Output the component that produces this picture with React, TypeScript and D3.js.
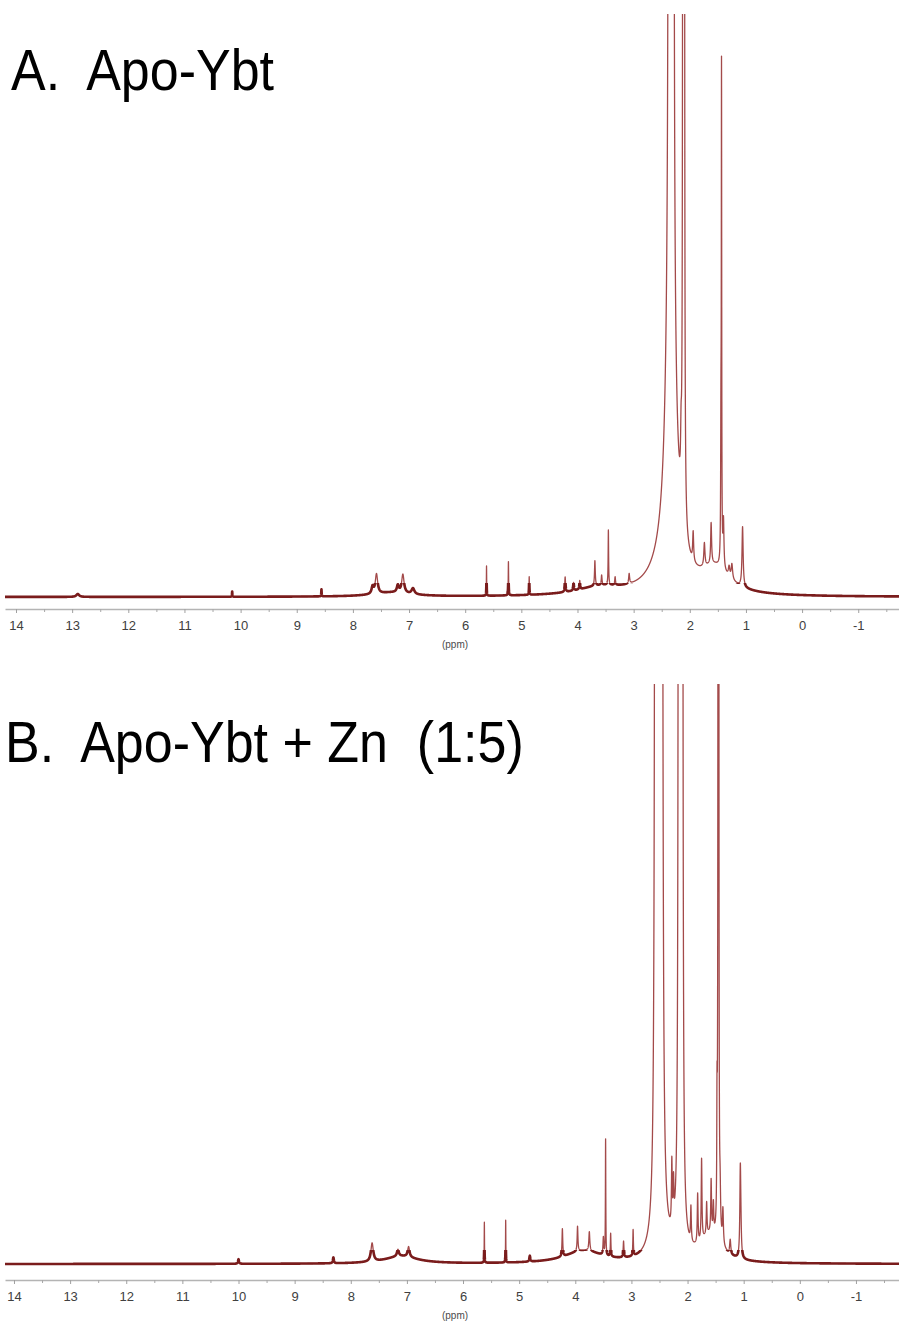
import React, { useEffect, useMemo, useRef } from "react";
import * as d3 from "d3";

// [chemical shift (ppm), intensity (% of full vertical scale), half-width (ppm)]
type Peak = [number, number, number];

const MAJOR_TICKS = [14, 13, 12, 11, 10, 9, 8, 7, 6, 5, 4, 3, 2, 1, 0, -1];
const MINOR_TICKS = [13.5, 12.5, 11.5, 10.5, 9.5, 8.5, 7.5, 6.5, 5.5, 4.5, 3.5, 2.5, 1.5, 0.5, -0.5, -1.5];
const AXIS_LABEL = "(ppm)";
const TITLE_A = "A.  Apo-Ybt";
const TITLE_B = "B.  Apo-Ybt + Zn  (1:5)";

const PEAKS_A: Peak[] = [
  [2.34, 60, 0.08],
  [2.4, 4, 0.3],
  [1.55, 4.3, 0.3],
  [3.6, 1.4, 0.5],
  [7.3, 0.7, 0.4],
  [2.37, 1200, 0.004],
  [2.345, 1200, 0.004],
  [2.32, 1200, 0.004],
  [2.295, 1200, 0.004],
  [2.12, 540, 0.004],
  [2.1, 540, 0.004],
  [2.155, 8, 0.01],
  [1.94, 5, 0.01],
  [1.74, 4, 0.012],
  [1.62, 7, 0.01],
  [1.435, 81.5, 0.004],
  [1.445, 22, 0.006],
  [1.4, 8, 0.01],
  [1.3, 1.7, 0.015],
  [1.25, 2.6, 0.015],
  [1.06, 10.3, 0.012],
  [3.08, 1.7, 0.01],
  [3.33, 1.4, 0.008],
  [3.45, 9.4, 0.005],
  [3.57, 1.7, 0.008],
  [3.69, 4.3, 0.008],
  [3.96, 1.5, 0.008],
  [4.07, 1.4, 0.008],
  [4.22, 2.6, 0.008],
  [4.86, 3.1, 0.004],
  [5.23, 5.8, 0.004],
  [5.62, 5.1, 0.003],
  [6.93, 1, 0.03],
  [7.11, 3.2, 0.025],
  [7.2, 1.2, 0.02],
  [7.58, 3.4, 0.025],
  [7.65, 1.2, 0.02],
  [8.56, 1.2, 0.004],
  [10.15, 0.9, 0.004],
  [12.9, 0.5, 0.03],
];

const PEAKS_B: Peak[] = [
  [2.57, 1380, 0.005],
  [2.54, 1380, 0.005],
  [2.51, 1380, 0.005],
  [2.485, 1380, 0.005],
  [2.46, 1380, 0.005],
  [2.155, 1080, 0.004],
  [2.135, 1080, 0.004],
  [2.115, 1080, 0.004],
  [2.095, 1080, 0.004],
  [2.28, 11, 0.008],
  [2.25, 7, 0.008],
  [1.94, 6, 0.008],
  [1.82, 8.5, 0.008],
  [1.75, 14, 0.008],
  [1.66, 5.5, 0.008],
  [1.58, 9, 0.008],
  [1.54, 5, 0.008],
  [1.475, 18, 0.005],
  [1.452, 700, 0.003],
  [1.443, 80, 0.003],
  [1.42, 6, 0.01],
  [1.37, 6, 0.01],
  [1.24, 2.5, 0.012],
  [1.06, 15, 0.01],
  [1.05, 3, 0.01],
  [1.6, 4.5, 0.22],
  [3.85, 2.2, 0.4],
  [7.1, 1.3, 0.35],
  [2.97, 4.5, 0.006],
  [3.14, 2.8, 0.008],
  [3.37, 4, 0.006],
  [3.46, 20, 0.004],
  [3.5, 3, 0.008],
  [3.75, 3.3, 0.01],
  [3.96, 4.3, 0.008],
  [4.23, 4.8, 0.008],
  [4.81, 1, 0.01],
  [5.24, 7.3, 0.003],
  [5.62, 7, 0.003],
  [6.97, 1.8, 0.02],
  [7.16, 1.2, 0.02],
  [7.62, 3.2, 0.025],
  [8.31, 1, 0.01],
  [10.0, 0.8, 0.01],
];

const FONT = "'Liberation Sans', Arial, Helvetica, sans-serif";
const LINE_LIGHT = "#a34a4a";
const LINE_DARK = "#7a1c1c";

function spectrum(peaks: Peak[], hi: number, lo: number): [number, number][] {
  const step = 0.001;
  const n = Math.round((hi - lo) / step);
  const pts: [number, number][] = [];
  for (let i = 0; i <= n; i++) {
    const p = hi - i * step;
    let s = 0;
    for (const [c, h, w] of peaks) {
      const d = (p - c) / w;
      s += h / (1 + d * d);
    }
    pts.push([p, s]);
  }
  return pts;
}

function Axis({ scale, y }: { scale: d3.ScaleLinear<number, number>; y: number }) {
  const ref = useRef<SVGGElement>(null);
  useEffect(() => {
    if (!ref.current) return;
    const g = d3.select(ref.current);
    g.selectAll("*").remove();
    const major = d3
      .axisBottom(scale)
      .tickValues(MAJOR_TICKS)
      .tickSize(4)
      .tickSizeOuter(0)
      .tickPadding(8)
      .tickFormat((d) => String(d));
    g.call(major as any);
    g.attr("font-family", FONT).attr("font-size", 13);
    g.select(".domain").attr("stroke", "#b4b4b4").attr("stroke-width", 1.6);
    g.selectAll(".tick line").attr("stroke", "#a0a0a0");
    g.selectAll(".tick text").attr("fill", "#404040");
    const minorG = g.append("g");
    const minor = d3.axisBottom(scale).tickValues(MINOR_TICKS).tickSize(3).tickSizeOuter(0).tickFormat(() => "");
    minorG.call(minor as any);
    minorG.select(".domain").remove();
    minorG.selectAll(".tick line").attr("stroke", "#a8a8a8");
  }, [scale]);
  return <g ref={ref} transform={`translate(0,${y})`} />;
}

function Panel({
  id,
  peaks,
  domain,
  baseY,
  topY,
  axisY,
  title,
  titleX,
  titleY,
}: {
  id: string;
  peaks: Peak[];
  domain: [number, number];
  baseY: number;
  topY: number;
  axisY: number;
  title: string;
  titleX: number;
  titleY: number;
}) {
  const x = useMemo(() => d3.scaleLinear().domain(domain).range([5, 899]), [domain]);
  const y = useMemo(() => d3.scaleLinear().domain([0, 100]).range([baseY, topY]), [baseY, topY]);
  const d = useMemo(() => {
    const pts = spectrum(peaks, domain[0], domain[1]);
    return d3
      .line<[number, number]>()
      .x((p) => x(p[0]))
      .y((p) => Math.max(y(p[1]), topY - 50))(pts) as string;
  }, [peaks, domain, x, y, topY]);
  return (
    <g>
      <defs>
        <clipPath id={`${id}-clip`}>
          <rect x={0} y={topY} width={899} height={axisY - 4 - topY} />
        </clipPath>
        <clipPath id={`${id}-band`}>
          <rect x={0} y={baseY - 14} width={899} height={axisY - 4 - (baseY - 14)} />
        </clipPath>
      </defs>
      <text
        transform={`translate(${titleX},${titleY}) scale(1,1.1)`}
        fontFamily={FONT}
        fontSize={52}
        fill="#000"
        style={{ whiteSpace: "pre" }}
      >
        {title}
      </text>
      <g clipPath={`url(#${id}-clip)`}>
        <path d={d} fill="none" stroke={LINE_LIGHT} strokeWidth={1.3} strokeLinejoin="round" />
      </g>
      <g clipPath={`url(#${id}-band)`}>
        <path d={d} fill="none" stroke={LINE_DARK} strokeWidth={2.6} strokeLinejoin="round" />
      </g>
      <Axis scale={x} y={axisY} />
      <text x={455} y={axisY + 39} textAnchor="middle" fontFamily={FONT} fontSize={10} fill="#4a4a4a">
        {AXIS_LABEL}
      </text>
    </g>
  );
}

const DOMAIN_A: [number, number] = [14.196, -1.726];
const DOMAIN_B: [number, number] = [14.16, -1.767];

export default function App() {
  return (
    <svg
      width={899}
      height={1325}
      viewBox="0 0 899 1325"
      style={{ position: "absolute", left: 0, top: 0, display: "block", background: "#fff" }}
    >
      <rect x={0} y={0} width={899} height={1325} fill="#fff" />
      <Panel
        id="a"
        peaks={PEAKS_A}
        domain={DOMAIN_A}
        baseY={597}
        topY={14}
        axisY={609}
        title={TITLE_A}
        titleX={11}
        titleY={90}
      />
      <Panel
        id="b"
        peaks={PEAKS_B}
        domain={DOMAIN_B}
        baseY={1264}
        topY={684}
        axisY={1280}
        title={TITLE_B}
        titleX={5}
        titleY={762}
      />
    </svg>
  );
}
